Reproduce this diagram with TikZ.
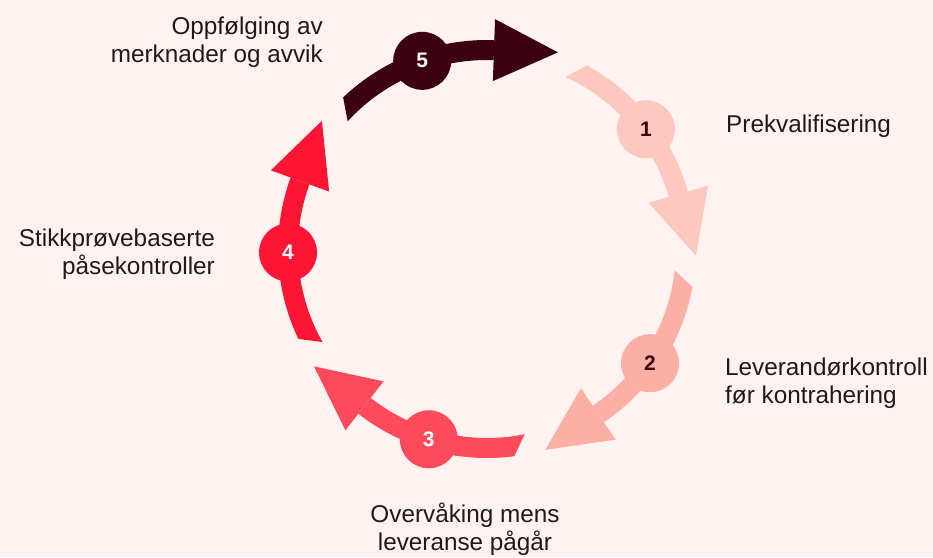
\documentclass[tikz,border=0pt]{standalone}
\usepackage{fontspec}
\setmainfont{Liberation Sans}
\usetikzlibrary{calc}
\definecolor{bg}{HTML}{FFF3F1}
\definecolor{cfive}{HTML}{3D0012}
\definecolor{cone}{HTML}{FFC8BF}
\definecolor{ctwo}{HTML}{FBAFA5}
\definecolor{cthree}{HTML}{FF4A5B}
\definecolor{cfour}{HTML}{FF1534}
\definecolor{txt}{HTML}{1F1A1A}
\begin{document}
\begin{tikzpicture}[x=1pt,y=1pt,
  numcirc/.style={circle, minimum size=58pt, inner sep=0pt, font=\fontsize{21}{21}\selectfont\bfseries},
  lbl/.style={inner sep=0pt, text=txt, font=\fontsize{24.3}{28}\selectfont}]
\fill[bg] (0,0) rectangle (933,557);
\useasboundingbox (0,0) rectangle (933,557);
\begin{scope}[shift={(487,308)}]
\foreach \p/\c in {109/cfive, 37/cone, -35/ctwo, -107/cthree, 181/cfour} {
  \pgfmathsetmacro\angB{\p-21}
  \pgfmathsetmacro\angO{\p+24.5}
  \pgfmathsetmacro\angI{\p+28.5}
  \fill[\c] (\angO:209) arc[start angle=\angO, end angle=\angB, radius=209pt]
     -- (\angB:189) arc[start angle=\angB, end angle=\angI, radius=189pt] -- cycle;
  \fill[\c] (\angB:230) -- ($(\angB:199)+(\angB-90:64)$) -- (\angB:168) -- cycle;
}
\node[numcirc, fill=cfive, text=white] (n5) at (109:199) {5};
\node[numcirc, fill=cone, text=cfive] (n1) at (37:199) {1};
\node[numcirc, fill=ctwo, text=cfive] (n2) at (-35:199) {2};
\node[numcirc, fill=cthree, text=white] (n3) at (-107:199) {3};
\node[numcirc, fill=cfour, text=white] (n4) at (181:199) {4};
\end{scope}
\node[lbl, anchor=base east, align=right] (l5) at (323,494) {Oppfølging av\\merknader og avvik};
\node[lbl, anchor=base west, align=left] (l1) at (726,424) {Prekvalifisering};
\node[lbl, anchor=base west, align=left] (l2) at (725,154) {Leverandørkontroll\\før kontrahering};
\node[lbl, anchor=base east, align=right] (l4) at (215,282) {Stikkprøvebaserte\\påsekontroller};
\node[lbl, anchor=base, align=center] (l3) at (465,7) {Overvåking mens\\leveranse pågår};
\end{tikzpicture}
\end{document}
